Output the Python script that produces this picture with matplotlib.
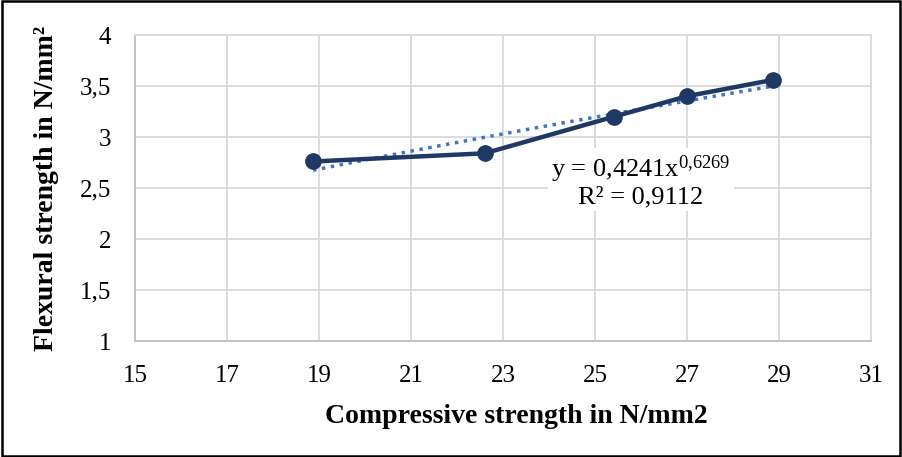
import numpy as np
import matplotlib.pyplot as plt
from matplotlib.ticker import FuncFormatter
from matplotlib.patches import Rectangle

plt.rcParams['font.family'] = ['Liberation Serif', 'DejaVu Serif']
plt.rcParams['mathtext.fontset'] = 'custom'
plt.rcParams['mathtext.rm'] = 'Liberation Serif'
plt.rcParams['mathtext.it'] = 'Liberation Serif'

# compressive vs flexural strength
compressive = [18.87, 22.6, 25.42, 27.0, 28.87]
flexural = [2.76, 2.84, 3.2, 3.4, 3.56]
x_ticks = [15, 17, 19, 21, 23, 25, 27, 29, 31]
y_ticks = [1, 1.5, 2, 2.5, 3, 3.5, 4]

fig = plt.figure(figsize=(9.02, 4.57), dpi=100)
ax = fig.add_axes([0.1497, 0.2538, 0.8159, 0.6696])

# power trendline fitted in log space
b, log_a = np.polyfit(np.log(compressive), np.log(flexural), 1)
a = np.exp(log_a)
xs = np.linspace(min(compressive), max(compressive), 100)
ax.plot(xs, a * xs ** b, color='#4472c4', lw=2.5, ls=(0, (1, 1.6)), zorder=3)

ax.plot(compressive, flexural, color='#1f3864', lw=3.2, marker='o', ms=11, zorder=4)

ax.set_xlim(15, 31)
ax.set_ylim(1, 4)
ax.set_xticks(x_ticks)
ax.set_yticks(y_ticks)
ax.yaxis.set_major_formatter(FuncFormatter(lambda v, p: f'{v:g}'.replace('.', ',')))
ax.tick_params(length=0, labelsize=18)
ax.tick_params(axis='y', pad=17)
ax.tick_params(axis='x', pad=17)
ax.grid(True, color='#d9d9d9', lw=1.3)
for side in ['top', 'right']:
    ax.spines[side].set_color('#d9d9d9')
for side in ['left', 'bottom']:
    ax.spines[side].set_color('#bfbfbf')
for s in ax.spines.values():
    s.set_linewidth(1.3)
ax.set_axisbelow(True)

ax.set_xlabel('Compressive strength in N/mm2', fontsize=20, fontweight='bold')
ax.xaxis.set_label_coords(0.518, -0.205)
ax.set_ylabel('Flexural strength in N/mm²', fontsize=20, fontweight='bold', labelpad=15)

ax.text(26.0, 2.57, r'y = 0,4241x$^{\mathrm{0{,}6269}}$' + '\nR² = 0,9112',
        ha='center', va='center', fontsize=19, linespacing=1.05, zorder=5,
        bbox=dict(facecolor='white', edgecolor='none', pad=2))

fig.patches.append(Rectangle((0.002, 0.003), 0.996, 0.994, transform=fig.transFigure,
                             fill=False, edgecolor='black', lw=1.8))

fig.savefig('out.png', dpi=100)
